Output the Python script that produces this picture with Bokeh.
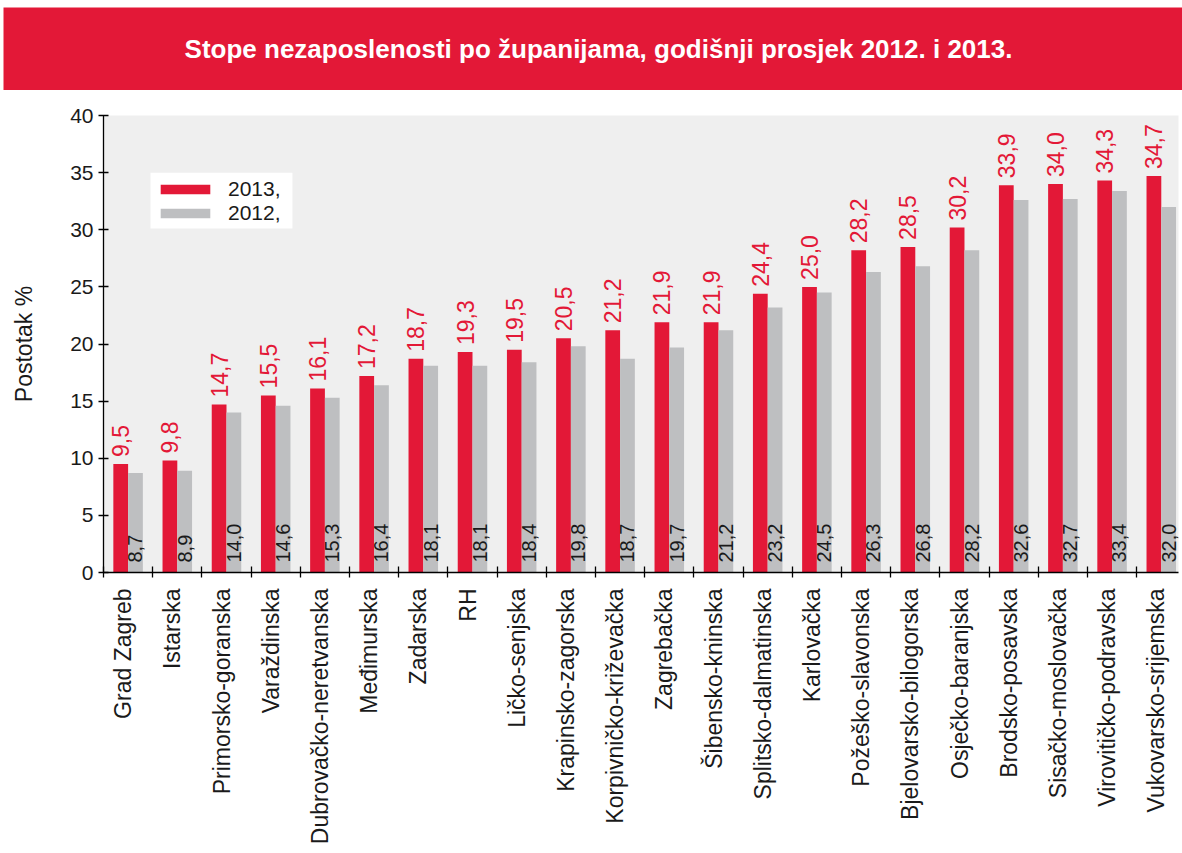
import math
from bokeh.plotting import figure
from bokeh.models import (ColumnDataSource, Range1d, FixedTicker, Legend, LegendItem, BoxAnnotation)
from bokeh.layouts import column
from bokeh.core.properties import value
from bokeh.embed import file_html
from bokeh.resources import INLINE

title_text = "Stope nezaposlenosti po županijama, godišnji prosjek 2012. i 2013."
names = ["Grad Zagreb", "Istarska", "Primorsko-goranska", "Varaždinska",
         "Dubrovačko-neretvanska", "Međimurska", "Zadarska", "RH", "Ličko-senjska",
         "Krapinsko-zagorska", "Korpivničko-križevačka", "Zagrebačka", "Šibensko-kninska",
         "Splitsko-dalmatinska", "Karlovačka", "Požeško-slavonska", "Bjelovarsko-bilogorska",
         "Osječko-baranjska", "Brodsko-posavska", "Sisačko-moslovačka",
         "Virovitičko-podravska", "Vukovarsko-srijemska"]
v2013 = [9.5, 9.8, 14.7, 15.5, 16.1, 17.2, 18.7, 19.3, 19.5, 20.5, 21.2, 21.9, 21.9,
         24.4, 25.0, 28.2, 28.5, 30.2, 33.9, 34.0, 34.3, 34.7]
v2012 = [8.7, 8.9, 14.0, 14.6, 15.3, 16.4, 18.1, 18.1, 18.4, 19.8, 18.7, 19.7, 21.2,
         23.2, 24.5, 26.3, 26.8, 28.2, 32.6, 32.7, 33.4, 32.0]
y_ticks = [0, 5, 10, 15, 20, 25, 30, 35, 40]
series_labels = ["2013,", "2012,"]
y_label = "Postotak %"

RED = "#e31837"
GRAY = "#bebfc1"
BG = "#efefef"
FONT = "Liberation Sans"

def fmt(v):
    return f"{v:.1f}".replace(".", ",")

idx = list(range(len(names)))
src = ColumnDataSource(dict(
    x13=[i - 0.15 for i in idx],
    x12=[i + 0.15 for i in idx],
    v13=v2013, v12=v2012,
    t13=[fmt(v) for v in v2013],
    t12=[fmt(v) for v in v2012],
    zero=[0] * len(idx),
))

# ---- banner ----
banner = figure(width=1182, height=90, x_range=Range1d(0, 1182), y_range=Range1d(0, 90),
                min_border=0, toolbar_location=None, output_backend="svg",
                x_axis_type=None, y_axis_type=None)
banner.frame_align = False
banner.outline_line_color = None
banner.grid.visible = False
banner.background_fill_color = "white"
banner.border_fill_color = "white"
banner.quad(left=3, right=1182, bottom=0, top=83, color=RED, line_color=None)
banner.text(x=[598], y=[42], text=[title_text], text_color="white",
            text_font=value(FONT), text_font_style="bold", text_font_size="26px",
            text_align="center", text_baseline="middle")

# ---- main chart ----
p = figure(width=1182, height=763, x_range=Range1d(-0.5, 21.35), y_range=Range1d(0, 40),
           min_border_left=103, min_border_right=4, min_border_top=25, min_border_bottom=281,
           toolbar_location=None, output_backend="svg")
p.frame_align = False
p.background_fill_color = BG
p.border_fill_color = "white"
p.outline_line_color = None
p.grid.visible = False

r13 = p.vbar(x="x13", top="v13", width=0.3, source=src, fill_color=RED, line_color=None)
r12 = p.vbar(x="x12", top="v12", width=0.3, source=src, fill_color=GRAY, line_color=None)

p.text(x="x13", y="v13", text="t13", source=src, angle=math.pi / 2, y_offset=-7,
       text_align="left", text_baseline="middle", text_color=RED,
       text_font=value(FONT), text_font_size="23px")
p.text(x="x12", y="zero", text="t12", source=src, angle=math.pi / 2, y_offset=-10,
       text_align="left", text_baseline="middle", text_color="#1a1a1a",
       text_font=value(FONT), text_font_size="20px")

# x axis: labels near category centers, boundary tick marks as minor ticks
label_pos = [round(i - 0.1, 2) for i in idx]
p.xaxis.ticker = FixedTicker(ticks=label_pos, minor_ticks=[i - 0.5 for i in idx])
p.xaxis.major_label_overrides = {lp: n for lp, n in zip(label_pos, names)}
p.xaxis.major_label_orientation = math.pi / 2
p.xaxis.major_tick_in = 0
p.xaxis.major_tick_out = 0
p.xaxis.minor_tick_in = 6
p.xaxis.minor_tick_out = 5
p.xaxis.minor_tick_line_color = "black"
p.xaxis.minor_tick_line_width = 1.3
p.xaxis.major_label_standoff = 11
p.xaxis.major_label_text_font = FONT
p.xaxis.major_label_text_font_size = "23px"
p.xaxis.major_label_text_color = "#1a1a1a"
p.xaxis.axis_line_color = "black"
p.xaxis.axis_line_width = 1.3

p.yaxis.ticker = FixedTicker(ticks=y_ticks)
p.yaxis.major_tick_in = 5
p.yaxis.major_tick_out = 5
p.yaxis.minor_tick_line_color = None
p.yaxis.major_tick_line_color = "black"
p.yaxis.major_tick_line_width = 1.3
p.yaxis.axis_line_color = "black"
p.yaxis.axis_line_width = 1.3
p.yaxis.major_label_standoff = 5
p.yaxis.major_label_text_font = FONT
p.yaxis.major_label_text_font_size = "21px"
p.yaxis.major_label_text_color = "#1a1a1a"
p.yaxis.axis_label = y_label
p.yaxis.axis_label_text_font = FONT
p.yaxis.axis_label_text_font_size = "23px"
p.yaxis.axis_label_text_font_style = "normal"
p.yaxis.axis_label_text_color = "#1a1a1a"
p.yaxis.axis_label_standoff = 30

# white legend box (drawn behind the legend)
p.add_layout(BoxAnnotation(left=0.455, right=3.34, bottom=30.1, top=35.0,
                           fill_color="white", fill_alpha=1, line_color=None))

legend = Legend(items=[LegendItem(label=series_labels[0], renderers=[r13]),
                       LegendItem(label=series_labels[1], renderers=[r12])],
                location=(51, 347), orientation="vertical")
legend.glyph_width = 62
legend.glyph_height = 12
legend.label_standoff = 12
legend.padding = 0
legend.spacing = 0
legend.margin = 0
legend.border_line_color = None
legend.background_fill_alpha = 0
legend.label_text_font = FONT
legend.label_text_font_size = "21px"
legend.label_text_color = "#1a1a1a"
p.add_layout(legend)

layout = column(banner, p, spacing=0)
open("out.html", "w").write(file_html(layout, INLINE))
